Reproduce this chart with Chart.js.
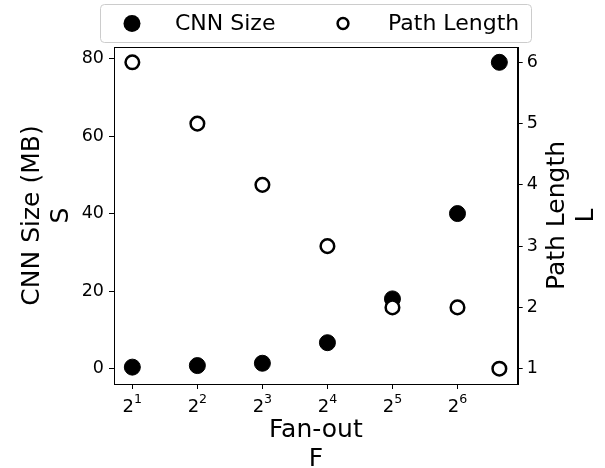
<!DOCTYPE html>
<html><head><meta charset="utf-8">
<script src="https://cdn.jsdelivr.net/npm/chart.js@4"></script>
<style>html,body{margin:0;padding:0;background:#fff}#wrap{width:605px;height:468px;position:relative}</style>
</head><body><div id="wrap"><canvas id="c" width="605" height="468"></canvas></div>
<script>
const fanOut = [2, 4, 8, 16, 32, 64, 100];
const cnnSize = [0.4, 0.8, 1.4, 6.7, 18, 40, 79];
const pathLength = [6, 5, 4, 3, 2, 2, 1];
const xTickValues = [2, 4, 8, 16, 32, 64];
const leftTickValues = [0, 20, 40, 60, 80];
const rightTickValues = [1, 2, 3, 4, 5, 6];
const seriesLabels = ['CNN Size', 'Path Length'];
const xTitle = ['Fan-out', 'F'];
const leftTitle = ['CNN Size (MB)', 'S'];
const rightTitle = ['Path Length', 'L'];

const FONT = '"DejaVu Sans", sans-serif';

const axisGrid = {drawOnChartArea:false, drawTicks:true, tickLength:5, color:'#000', lineWidth:1};
const axisBorder = {display:true, color:'#000', width:1};
const tickFont = {family:FONT, size:17.5};

const overlay = {
  id:'overlay',
  beforeDatasetsDraw(chart){
    const {ctx, chartArea:a} = chart;
    ctx.save();
    ctx.strokeStyle = '#000'; ctx.lineWidth = 1;
    ctx.strokeRect(Math.round(a.left)+0.5, Math.round(a.top)+0.5, Math.round(a.right-a.left), Math.round(a.bottom-a.top));
    ctx.restore();
  },
  afterDraw(chart){
    const {ctx, chartArea:a} = chart;
    ctx.save();
    // x tick labels: base 2 with exponent as superscript
    const xs = chart.scales.x;
    ctx.fillStyle = '#000';
    ctx.textBaseline = 'alphabetic'; ctx.textAlign = 'left';
    xs.ticks.forEach(t => {
      const px = xs.getPixelForValue(t.value);
      const base = '2', exp = String(Math.round(Math.log2(t.value)));
      ctx.font = '18px ' + FONT; const wb = ctx.measureText(base).width;
      ctx.font = '12.6px ' + FONT; const we = ctx.measureText(exp).width;
      const x0 = px - (wb + we)/2;
      ctx.font = '18px ' + FONT; ctx.fillText(base, x0, 412);
      ctx.font = '12.6px ' + FONT; ctx.fillText(exp, x0 + wb, 403);
    });
    // legend
    const box = {left:100.5, top:4.5, w:431, h:38};
    ctx.beginPath();
    ctx.roundRect(box.left, box.top, box.w, box.h, 4);
    ctx.fillStyle = 'rgba(255,255,255,0.8)'; ctx.fill();
    ctx.strokeStyle = '#cccccc'; ctx.lineWidth = 1; ctx.stroke();
    const cy = box.top + box.h/2;
    const entries = [
      {mx:132, tx:175, r:8.5, fill:'#000', lw:0},
      {mx:343, tx:388, r:5.4, fill:'#fff', lw:2.5}
    ];
    chart.data.datasets.forEach((ds, i) => {
      const e = entries[i];
      ctx.beginPath();
      ctx.arc(e.mx, cy, e.r, 0, Math.PI*2);
      ctx.fillStyle = e.fill; ctx.fill();
      if (e.lw) { ctx.lineWidth = e.lw; ctx.strokeStyle = ds.borderColor; ctx.stroke(); }
      ctx.fillStyle = '#000';
      ctx.font = '22px ' + FONT;
      ctx.textAlign = 'left'; ctx.textBaseline = 'middle';
      ctx.fillText(ds.label, e.tx, cy + 1);
    });
    // axis titles
    ctx.font = '25px ' + FONT;
    ctx.fillStyle = '#000';
    ctx.textAlign = 'center'; ctx.textBaseline = 'alphabetic';
    const cx = (a.left + a.right)/2;
    xTitle.forEach((t, i) => ctx.fillText(t, cx, 437 + i*29));
    const cyA = (a.top + a.bottom)/2;
    const drawV = (lines, x0) => {
      lines.forEach((t, i) => {
        ctx.save();
        ctx.translate(x0 + i*29, cyA);
        ctx.rotate(-Math.PI/2);
        ctx.fillText(t, 0, 0);
        ctx.restore();
      });
    };
    drawV(leftTitle, 39);
    drawV(rightTitle, 564);
    ctx.restore();
  }
};

new Chart(document.getElementById('c'), {
  type:'scatter',
  data:{
    datasets:[
      {label:seriesLabels[0], data:fanOut.map((x,i)=>({x, y:cnnSize[i]})), xAxisID:'x', yAxisID:'y',
       pointRadius:8, pointHoverRadius:8, backgroundColor:'#000', borderColor:'#000', borderWidth:1, order:1, clip:false},
      {label:seriesLabels[1], data:fanOut.map((x,i)=>({x, y:pathLength[i]})), xAxisID:'x', yAxisID:'y1',
       pointRadius:6.8, pointHoverRadius:6.8, backgroundColor:'#fff', borderColor:'#000', borderWidth:2.5, order:0, clip:false}
    ]
  },
  options:{
    responsive:false, animation:false, devicePixelRatio:1,
    layout:{padding:{top:47, left:0, right:0, bottom:0}},
    plugins:{legend:{display:false}, tooltip:{enabled:false}},
    events:[],
    scales:{
      x:{type:'logarithmic', position:'bottom', min:Math.pow(2,0.718), max:Math.pow(2,6.926),
         afterBuildTicks:s=>{ s.ticks = xTickValues.map(v=>({value:v})); },
         ticks:{display:false, maxRotation:0, autoSkip:false},
         grid:axisGrid, border:axisBorder,
         afterFit:s=>{ s.height = 468-384; }},
      y:{type:'linear', position:'left', min:-3.95, max:82.95,
         afterBuildTicks:s=>{ s.ticks = leftTickValues.map(v=>({value:v})); },
         ticks:{color:'#000', font:tickFont, padding:5},
         grid:axisGrid, border:axisBorder,
         afterFit:s=>{ s.width = 114; }},
      y1:{type:'linear', position:'right', min:0.75, max:6.25,
         afterBuildTicks:s=>{ s.ticks = rightTickValues.map(v=>({value:v})); },
         ticks:{color:'#000', font:tickFont, padding:4},
         grid:axisGrid, border:axisBorder,
         afterFit:s=>{ s.width = 605-517.7; }}
    }
  },
  plugins:[overlay]
});
</script></body></html>
